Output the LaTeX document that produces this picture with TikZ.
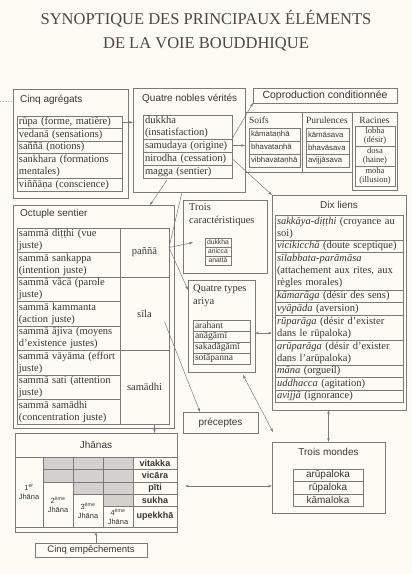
\documentclass[tikz,border=0pt]{standalone}
\usepackage{fontspec}
\setmainfont{Liberation Serif}
\setsansfont{Liberation Sans}
\usetikzlibrary{arrows.meta,calc,positioning}

\definecolor{papier}{HTML}{FDFCF4}
\definecolor{trait}{HTML}{7A7A7A}
\definecolor{encre}{HTML}{363636}
\definecolor{titrecol}{HTML}{4F4442}
\definecolor{grisfond}{HTML}{D2D1CE}
\definecolor{rose}{HTML}{D7A3C9}

\newcommand\txtcorps{\fontsize{10.5}{12}\selectfont}
\newcommand\txtpetit{\fontsize{8.5}{9.5}\selectfont}
\newcommand\txtsans{\sffamily\fontsize{10}{11.5}\selectfont}
\newcommand\txtsansp{\sffamily\fontsize{7.8}{9}\selectfont}
\newcommand\txttitre{\fontsize{16.5}{20}\selectfont}

\hyphenpenalty=10000
\exhyphenpenalty=10000

\tikzset{
  cadre/.style={draw=trait, line width=0.6pt, anchor=north west, inner sep=0pt, outer sep=0pt, text=encre},
  case/.style={draw=trait, line width=0.45pt, anchor=north west, inner xsep=2pt, inner ysep=0pt, outer sep=0pt, text=encre, font=\txtcorps, align=left},
  entete/.style={text=encre, font=\txtsans, inner sep=1pt},
  fleche/.style={draw=trait, line width=0.5pt, -{Stealth[length=4pt,width=2.6pt]}},
  fleches/.style={draw=trait, line width=0.5pt, {Stealth[length=4pt,width=2.6pt]}-{Stealth[length=4pt,width=2.6pt]}},
}

\begin{document}
\begin{tikzpicture}[x=1pt, y=-1pt,
    agr/.style={case, text width=101pt},
    vrai/.style={case, text width=85pt},
    soif/.style={case, font=\txtsansp, text width=47pt, minimum height=13pt},
    puru/.style={case, font=\txtsansp, text width=39pt, minimum height=13pt},
    racine/.style={case, font=\txtpetit, text width=36pt, minimum height=20pt, align=center},
    voie/.style={case, text width=99pt, minimum height=24.5pt},
    pilier/.style={case, text width=45pt, align=center},
    carac/.style={case, font=\sffamily\fontsize{6.8}{8}\selectfont, inner xsep=1pt, text width=24pt, minimum height=9pt, align=center},
    type/.style={case, font=\fontsize{9.5}{10}\selectfont, text width=53pt, minimum height=11pt},
    lien/.style={case, text width=124pt},
    monde/.style={case, font=\txtsans, text width=66pt, minimum height=12.5pt, align=center},
    jcase/.style={draw=trait, line width=0.45pt, anchor=north west, inner sep=0pt, outer sep=0pt, text=encre, font=\sffamily\fontsize{7.5}{9}\selectfont, align=center},
    facteur/.style={jcase, minimum width=44pt, font=\sffamily\bfseries\fontsize{9}{10}\selectfont},
    grisee/.style={jcase, fill=grisfond, minimum width=30pt}]

\fill[papier] (0,0) rectangle (412,574);
\useasboundingbox (0,0) rectangle (412,574);

% titre
\node[text=titrecol, font=\txttitre] (titre1) at (206,19) {SYNOPTIQUE DES PRINCIPAUX ÉLÉMENTS};
\node[text=titrecol, font=\txttitre] (titre2) at (206,44) {DE LA VOIE BOUDDHIQUE};

% cinq agregats
\node[cadre, minimum width=115pt, minimum height=109pt] (agregats) at (13,89) {};
\node[entete, anchor=west] (agregats-t) at ($(agregats.north west)+(6,11)$) {Cinq agrégats};
\node[agr, minimum height=12.5pt] (rupa) at (17,116) {rūpa (forme, matière)};
\node[agr, minimum height=12.5pt] (vedana) at (rupa.south west) {vedanā (sensations)};
\node[agr, minimum height=12.5pt] (sanna) at (vedana.south west) {saññā (notions)};
\node[agr, minimum height=25pt] (sankhara) at (sanna.south west) {sankhara (formations mentales)};
\node[agr, minimum height=13pt] (vinnana) at (sankhara.south west) {viññāṇa (conscience)};
\coordinate (marge) at (0,101);
\draw[rose, dotted, line width=0.8pt] (marge) -- (marge -| agregats.west);

% quatre nobles verites
\node[cadre, minimum width=112pt, minimum height=104pt] (nobles) at (133,88) {};
\node[entete, anchor=west] (nobles-t) at ($(nobles.north west)+(8,11)$) {Quatre nobles vérités};
\node[vrai, minimum height=24pt] (dukkha) at (143,115) {dukkha (insatisfaction)};
\node[vrai, minimum height=13pt] (samudaya) at (dukkha.south west) {samudaya (origine)};
\node[vrai, minimum height=13pt] (nirodha) at (samudaya.south west) {nirodha (cessation)};
\node[vrai, minimum height=13pt] (magga) at (nirodha.south west) {magga (sentier)};

% coproduction conditionnee
\node[cadre, minimum width=144pt, minimum height=15pt, font=\sffamily\fontsize{10.5}{12}\selectfont] (copro) at (253,88) {Coproduction conditionnée};

\node[cadre, minimum width=57pt, minimum height=60pt] (soifs) at (245,112) {};
\node[text=encre, font=\fontsize{9.5}{11}\selectfont, anchor=west, inner sep=0pt] (soifs-t) at ($(soifs.north west)+(4,8)$) {Soifs};
\node[soif] (kamatanha) at (249,128) {kāmataṇhā};
\node[soif] (bhavatanha) at (kamatanha.south west) {bhavataṇhā};
\node[soif] (vibhavatanha) at (bhavatanha.south west) {vibhavataṇhā};

\node[cadre, minimum width=50pt, minimum height=60pt] (purul) at (302,112) {};
\node[text=encre, font=\fontsize{9.5}{11}\selectfont, inner sep=0pt] (purul-t) at ($(purul.north)+(0,8)$) {Purulences};
\node[puru] (kamasava) at (306,128) {kāmāsava};
\node[puru] (bhavasava) at (kamasava.south west) {bhavāsava};
\node[puru] (avijjasava) at (bhavasava.south west) {avijjāsava};

\node[cadre, minimum width=45pt, minimum height=78pt] (racines) at (352,112) {};
\node[text=encre, font=\fontsize{9.5}{11}\selectfont, inner sep=0pt] (racines-t) at ($(racines.north)+(0,8)$) {Racines};
\node[racine] (lobha) at (355,126) {lobha\\(désir)};
\node[racine] (dosa) at (lobha.south west) {dosa\\(haine)};
\node[racine] (moha) at (dosa.south west) {moha\\(illusion)};

% octuple sentier
\node[cadre, minimum width=161pt, minimum height=223pt] (octuple) at (13,205) {};
\node[entete, anchor=west] (octuple-t) at ($(octuple.north west)+(6,9)$) {Octuple sentier};
\node[voie] (ditthi) at (17,228) {sammā diṭṭhi (vue juste)};
\node[voie] (sankappa) at (ditthi.south west) {sammā sankappa (intention juste)};
\node[voie] (vaca) at (sankappa.south west) {sammā vācā (parole juste)};
\node[voie] (kammanta) at (vaca.south west) {sammā kammanta (action juste)};
\node[voie] (ajiva) at (kammanta.south west) {sammā ājiva (moyens d'existence justes)};
\node[voie] (vayama) at (ajiva.south west) {sammā vāyāma (effort juste)};
\node[voie] (sati) at (vayama.south west) {sammā sati (attention juste)};
\node[voie] (samadhi-v) at (sati.south west) {sammā samādhi (concentration juste)};
\node[pilier, minimum height=49pt] (panna) at (ditthi.north east) {paññā};
\node[pilier, minimum height=73.5pt] (sila) at (panna.south west) {sīla};
\node[pilier, minimum height=73.5pt] (samadhi) at (sila.south west) {samādhi};

% trois caracteristiques
\node[cadre, minimum width=84pt, minimum height=73pt] (troiscar) at (183,200) {};
\node[text=encre, font=\fontsize{10.5}{13}\selectfont, anchor=north west, align=left, inner sep=1pt] (troiscar-t) at ($(troiscar.north west)+(5,2)$) {Trois\\caractéristiques};
\node[carac] (tc-dukkha) at (205,238) {dukkha};
\node[carac] (tc-anicca) at (tc-dukkha.south west) {anicca};
\node[carac] (tc-anatta) at (tc-anicca.south west) {anattā};

% quatre types ariya
\node[cadre, minimum width=67pt, minimum height=92pt] (ariya) at (188,280) {};
\node[text=encre, font=\fontsize{10.5}{13}\selectfont, anchor=north west, align=left, inner sep=1pt] (ariya-t) at ($(ariya.north west)+(4,3)$) {Quatre types\\ariya};
\node[type] (arahant) at (193,320) {arahant};
\node[type] (anagami) at (arahant.south west) {anāgāmī};
\node[type] (sakadagami) at (anagami.south west) {sakadāgāmī};
\node[type] (sotapanna) at (sakadagami.south west) {sotāpanna};

% dix liens
\node[cadre, minimum width=134pt, minimum height=215pt] (dixliens) at (272,195) {};
\node[entete] (dixliens-t) at ($(dixliens.north)+(0,10)$) {Dix liens};
\node[lien, minimum height=25pt] (sakkaya) at (275,215) {\textit{sakkāya-diṭṭhi} (croyance au soi)};
\node[lien, minimum height=12.5pt] (vicikiccha) at (sakkaya.south west) {\textit{vicikicchā} (doute sceptique)};
\node[lien, minimum height=37.5pt] (silabbata) at (vicikiccha.south west) {\textit{sīlabbata-parāmāsa}\\(attachement aux rites, aux règles morales)};
\node[lien, minimum height=12.5pt] (kamaraga) at (silabbata.south west) {\textit{kāmarāga} (désir des sens)};
\node[lien, minimum height=12.5pt] (vyapada) at (kamaraga.south west) {\textit{vyāpāda} (aversion)};
\node[lien, minimum height=25pt] (ruparaga) at (vyapada.south west) {\textit{rūparāga} (désir d'exister dans le rūpaloka)};
\node[lien, minimum height=25pt] (aruparaga) at (ruparaga.south west) {\textit{arūparāga} (désir d'exister dans l'arūpaloka)};
\node[lien, minimum height=12.5pt] (mana) at (aruparaga.south west) {\textit{māna} (orgueil)};
\node[lien, minimum height=12.5pt] (uddhacca) at (mana.south west) {\textit{uddhacca} (agitation)};
\node[lien, minimum height=12.5pt] (avijja) at (uddhacca.south west) {\textit{avijjā} (ignorance)};

% preceptes
\node[cadre, minimum width=75pt, minimum height=21pt, font=\txtsans] (preceptes) at (183,412) {préceptes};

% trois mondes
\node[cadre, minimum width=113pt, minimum height=71pt] (mondes) at (272,442) {};
\node[entete] (mondes-t) at ($(mondes.north)+(0,10)$) {Trois mondes};
\node[monde] (arupaloka) at (293,469) {arūpaloka};
\node[monde] (rupaloka) at (arupaloka.south west) {rūpaloka};
\node[monde] (kamaloka) at (rupaloka.south west) {kāmaloka};

% jhanas
\node[cadre, minimum width=162pt, minimum height=94pt] (jhanas) at (15,433) {};
\node[entete] (jhanas-t) at ($(jhanas.north)+(0,12)$) {Jhānas};
\foreach \gx/\gy/\gh [count=\i] in {43/457/12, 73/457/12, 103/457/12, 43/469/13, 73/469/13, 103/469/13, 73/482/12, 103/482/12, 103/494/12}
  \node[grisee, minimum height=\gh pt] (ombre\i) at (\gx,\gy) {};
\node[jcase, minimum width=28pt, minimum height=70pt] (j1) at (15,457) {1\textsuperscript{er}\\Jhāna};
\node[jcase, minimum width=30pt, minimum height=45pt] (j2) at (43,482) {2\textsuperscript{ème}\\Jhāna};
\node[jcase, minimum width=30pt, minimum height=33pt] (j3) at (73,494) {3\textsuperscript{ème}\\Jhāna};
\node[jcase, minimum width=30pt, minimum height=21pt] (j4) at (103,506) {4\textsuperscript{ème}\\Jhāna};
\node[facteur, minimum height=12pt] (vitakka) at (133,457) {vitakka};
\node[facteur, minimum height=13pt] (vicara) at (vitakka.south west) {vicāra};
\node[facteur, minimum height=12pt] (piti) at (vicara.south west) {pīti};
\node[facteur, minimum height=12pt] (sukha) at (piti.south west) {sukha};
\node[facteur, minimum height=21pt] (upekkha) at (sukha.south west) {upekkhā};

% cinq empechements
\node[cadre, minimum width=112pt, minimum height=14pt, font=\sffamily\fontsize{9.5}{11}\selectfont] (empech) at (35,543) {Cinq empêchements};
\coordinate (acc) at ($(jhanas.south)+(0,5)$);
\draw[trait, line width=0.5pt] (jhanas.south west) -- ++(0,5) -- ($(jhanas.south east)+(0,5)$) -- (jhanas.south east);
\draw[fleche] (acc |- empech.north) -- (acc);

% liens
\draw[fleche] (rupa.east) -- (rupa.east -| nobles.west);
\draw[fleche] (samudaya.east) -- (samudaya.east -| soifs.west);
\draw[fleche] (samudaya.north east) -- (copro.south west);
\draw[fleche] (nirodha.east) -- (dixliens.north west);
\draw[fleche] ($(magga.south west)+(24,2)$) -- ($(octuple.north west)+(137,0)$);
\coordinate (pannapt) at ($(panna.east)+(0,-5)$);
\draw[fleche] (pannapt) -- ($(tc-dukkha.west)+(-12,0)$);
\draw[fleche] (pannapt) -- ($(ariya.north west)+(0,10)$);
\draw[trait, line width=0.5pt] (pannapt) -- ($(nobles.south west)+(49,0)$);
\draw[fleche] ($(sila.center)+(20,8)$) -- ($(preceptes.north west)+(17,0)$);
\coordinate (desc) at ($(samadhi.south)+(10,0)$);
\draw[fleche] (desc) -- (desc |- jhanas.north);
\coordinate (ad) at ($(ariya.east)+(0,7)$);
\draw[fleches] (ad) -- (ad -| dixliens.west);
\draw[fleches] ($(ariya.south east)+(-12,3)$) -- ($(mondes.north west)+(1,-10)$);
\draw[fleches] (mondes.north |- dixliens.south) -- (mondes.north);
\coordinate (jm) at ($(piti.east)+(8,-2)$);
\draw[fleches] (jm) -- (jm -| mondes.west);
\end{tikzpicture}
\end{document}
